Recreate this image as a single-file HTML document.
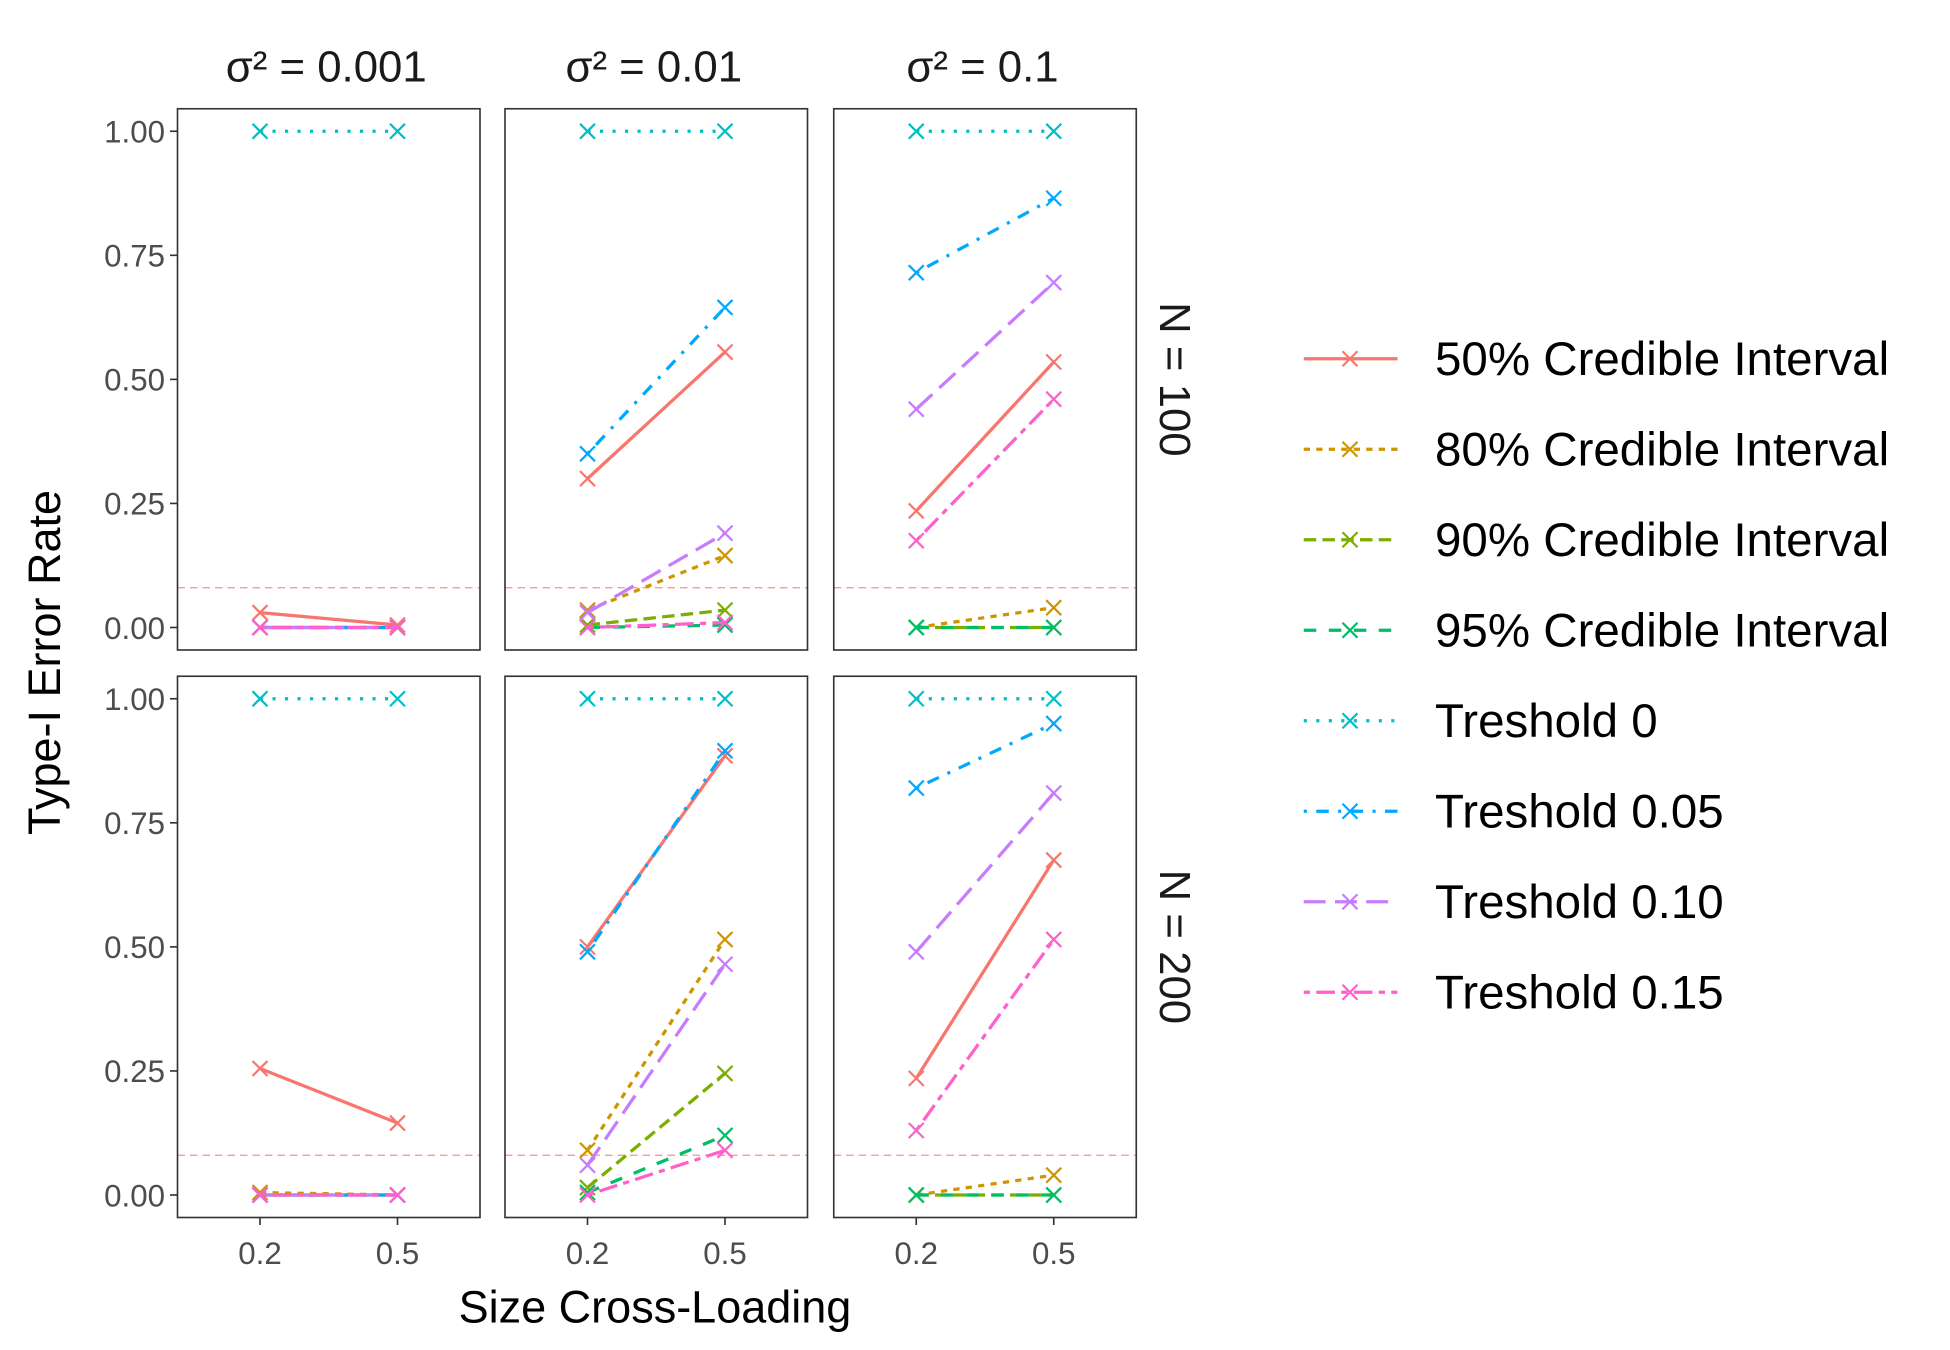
<!DOCTYPE html>
<html><head><meta charset="utf-8"><style>
html,body{margin:0;padding:0;background:#fff;}
svg{display:block;font-family:"Liberation Sans",sans-serif;}
</style></head><body>
<svg id="chart" width="1950" height="1350" viewBox="0 0 1560 1080" xmlns="http://www.w3.org/2000/svg"></svg>
<script>
const categories = ["0.2", "0.5"];
const colTitles = ["σ² = 0.001", "σ² = 0.01", "σ² = 0.1"];
const rowTitles = ["N = 100", "N = 200"];
const yTicks = [0, 0.25, 0.5, 0.75, 1];
const yTickLabels = ["0.00", "0.25", "0.50", "0.75", "1.00"];
const seriesNames = ["50% Credible Interval","80% Credible Interval","90% Credible Interval","95% Credible Interval","Treshold 0","Treshold 0.05","Treshold 0.10","Treshold 0.15"];
const refLine = 0.08;
const valuesN100S001 = [[0.03,0.005],[0,0],[0,0],[0,0],[1,1],[0,0],[0,0],[0,0]];
const valuesN100S01  = [[0.30,0.555],[0.035,0.145],[0.005,0.035],[0,0.005],[1,1],[0.35,0.645],[0.03,0.19],[0,0.01]];
const valuesN100S1   = [[0.235,0.535],[0,0.04],[0,0],[0,0],[1,1],[0.715,0.865],[0.44,0.695],[0.175,0.46]];
const valuesN200S001 = [[0.255,0.145],[0.005,0],[0,0],[0,0],[1,1],[0,0],[0,0],[0,0]];
const valuesN200S01  = [[0.50,0.885],[0.09,0.515],[0.015,0.245],[0.005,0.12],[1,1],[0.49,0.895],[0.06,0.465],[0,0.09]];
const valuesN200S1   = [[0.235,0.675],[0,0.04],[0,0],[0,0],[1,1],[0.82,0.95],[0.49,0.81],[0.13,0.515]];
const panelValues = [[valuesN100S001,valuesN100S01,valuesN100S1],[valuesN200S001,valuesN200S01,valuesN200S1]];

const colors = ["#F8766D","#CD9600","#7CAE00","#00BE67","#00BFC4","#00A9FF","#C77CFF","#FF61CC"];
const dashes = ["","5 5","10 5","10 10","2.5 7.5","2.5 7.5 10 7.5","17.5 7.5","5 5 15 5"];
const NS="http://www.w3.org/2000/svg";
const svg=document.getElementById('chart');
function mk(tag,attrs,parent){const e=document.createElementNS(NS,tag);for(const k in attrs)e.setAttribute(k,attrs[k]);(parent||svg).appendChild(e);return e;}
const panelX=[142,404,667], panelW=242;
const panelY=[87,541], panelH=433;
function xScale(c,i){return panelX[c]+panelW*(0.6+i)/2.2;}
function yScale(r,v){const top=panelY[r]+18, bot=panelY[r]+415;return bot-(bot-top)*v;}
function cross(x,y,col,g){
  const s=6;
  mk('line',{x1:x-s,y1:y-s,x2:x+s,y2:y+s,stroke:col,'stroke-width':1.8},g);
  mk('line',{x1:x-s,y1:y+s,x2:x+s,y2:y-s,stroke:col,'stroke-width':1.8},g);
}
for(let r=0;r<2;r++){
  for(let c=0;c<3;c++){
    const g=mk('g',{});
    
    
    mk('rect',{x:panelX[c],y:panelY[r],width:panelW,height:panelH,fill:'#fff'},g);
    const ry=yScale(r,refLine);
    const rl=mk('line',{x1:panelX[c],x2:panelX[c]+panelW,y1:ry,y2:ry,stroke:'#F8766D','stroke-width':1,'stroke-dasharray':'6 4',opacity:0.8},g);
    
    
    const vals=panelValues[r][c];
    for(let s=0;s<seriesNames.length;s++){
      const v=vals[s];
      const ln=mk('line',{x1:xScale(c,0),y1:yScale(r,v[0]),x2:xScale(c,1),y2:yScale(r,v[1]),stroke:colors[s],'stroke-width':2.6,'stroke-dasharray':dashes[s]},g);
      
      
      for(let i=0;i<2;i++)cross(xScale(c,i),yScale(r,v[i]),colors[s],g);
    }
    mk('rect',{x:panelX[c],y:panelY[r],width:panelW,height:panelH,fill:'none',stroke:'#333','stroke-width':1.3},g);
    if(c===0){
      for(let t=0;t<yTicks.length;t++){
        const y=yScale(r,yTicks[t]);
        mk('line',{x1:panelX[0]-6,x2:panelX[0],y1:y,y2:y,stroke:'#333','stroke-width':1.3});
        const tx=mk('text',{x:panelX[0]-10,y:y+9,'text-anchor':'end','font-size':25,fill:'#4d4d4d'});
        tx.textContent=yTickLabels[t];
        
        
      }
    }
    if(r===1){
      for(let i=0;i<categories.length;i++){
        const x=xScale(c,i);
        mk('line',{x1:x,x2:x,y1:panelY[1]+panelH,y2:panelY[1]+panelH+6,stroke:'#333','stroke-width':1.3});
        const tx=mk('text',{x:x,y:1011,'text-anchor':'middle','font-size':25,fill:'#4d4d4d'});
        tx.textContent=categories[i];
        
        
      }
    }
  }
}
for(let c=0;c<3;c++){
  const t=mk('text',{x:panelX[c]+panelW/2-2,y:65,'text-anchor':'middle','font-size':35,fill:'#1a1a1a'});
  t.textContent=colTitles[c];
  
  
}
for(let r=0;r<2;r++){
  const cy=panelY[r]+panelH/2;
  const t=mk('text',{x:0,y:0,'text-anchor':'middle','font-size':35,fill:'#1a1a1a',transform:'translate(928,'+cy+') rotate(90)'});
  t.textContent=rowTitles[r];
  
  
}
const xt=mk('text',{x:524,y:1058,'text-anchor':'middle','font-size':36,fill:'#000'});
xt.textContent='Size Cross-Loading';


const yt=mk('text',{x:0,y:0,'text-anchor':'middle','font-size':36,fill:'#000',transform:'translate(48,530) rotate(-90)'});
yt.textContent='Type-I Error Rate';


for(let s=0;s<seriesNames.length;s++){
  const y=287+s*72.4;
  const g=mk('g',{});
  
  
  mk('line',{x1:1043,x2:1118,y1:y,y2:y,stroke:colors[s],'stroke-width':2.6,'stroke-dasharray':dashes[s]},g);
  cross(1080,y,colors[s],g);
  const t=mk('text',{x:1148,y:y+13,'font-size':38,fill:'#000'},g);
  t.textContent=seriesNames[s];
}
</script>
</body></html>
